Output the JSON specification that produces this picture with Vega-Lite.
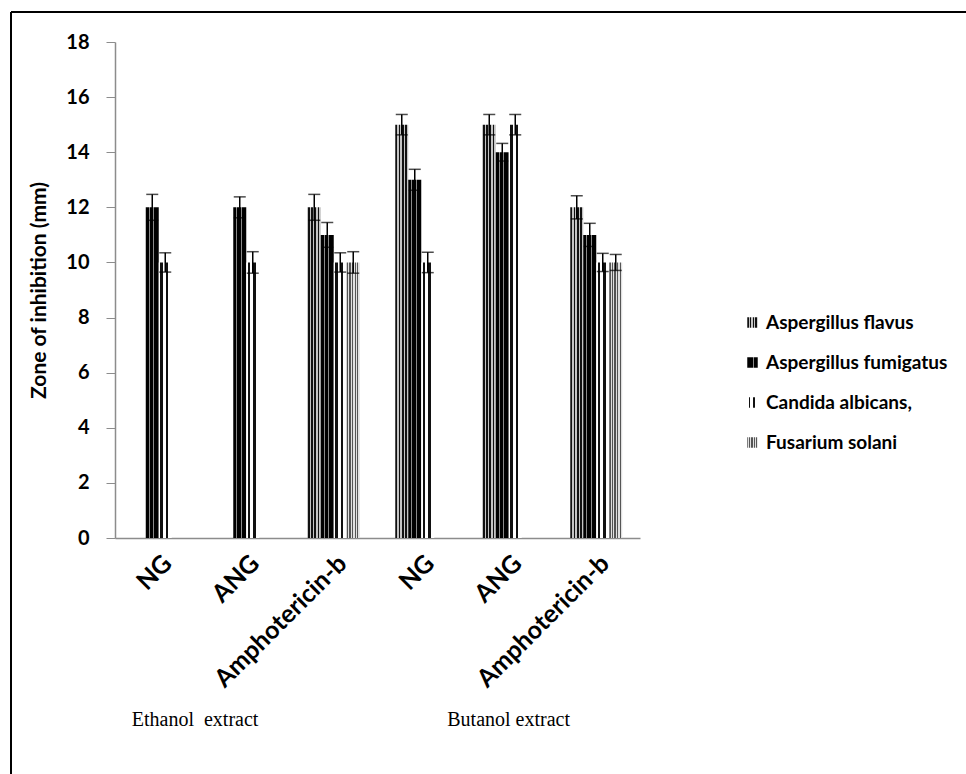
{
  "$schema": "https://vega.github.io/schema/vega-lite/v6.json",
  "width": 955,
  "height": 762,
  "autosize": {"type": "none"},
  "padding": {"left": 11, "top": 12, "right": 0, "bottom": 0},
  "background": "white",
  "config": {
    "view": {"stroke": "black", "strokeWidth": 2, "strokeDash": [955, 1717, 762, 0]},
    "font": "Lato"
  },
  "datasets": {
    "bars": [
      {"cat": "Ethanol|NG", "species": "Aspergillus fumigatus", "value": 12, "lo": 11.53, "hi": 12.47},
      {"cat": "Ethanol|NG", "species": "Candida albicans,", "value": 10, "lo": 9.65, "hi": 10.35},
      {"cat": "Ethanol|ANG", "species": "Aspergillus fumigatus", "value": 12, "lo": 11.62, "hi": 12.38},
      {"cat": "Ethanol|ANG", "species": "Candida albicans,", "value": 10, "lo": 9.61, "hi": 10.39},
      {"cat": "Ethanol|Amphotericin-b", "species": "Aspergillus flavus", "value": 12, "lo": 11.53, "hi": 12.47},
      {"cat": "Ethanol|Amphotericin-b", "species": "Aspergillus fumigatus", "value": 11, "lo": 10.55, "hi": 11.45},
      {"cat": "Ethanol|Amphotericin-b", "species": "Candida albicans,", "value": 10, "lo": 9.65, "hi": 10.35},
      {"cat": "Ethanol|Amphotericin-b", "species": "Fusarium solani", "value": 10, "lo": 9.61, "hi": 10.39},
      {"cat": "Butanol|NG", "species": "Aspergillus flavus", "value": 15, "lo": 14.63, "hi": 15.37},
      {"cat": "Butanol|NG", "species": "Aspergillus fumigatus", "value": 13, "lo": 12.62, "hi": 13.38},
      {"cat": "Butanol|NG", "species": "Candida albicans,", "value": 10, "lo": 9.63, "hi": 10.37},
      {"cat": "Butanol|ANG", "species": "Aspergillus flavus", "value": 15, "lo": 14.63, "hi": 15.37},
      {"cat": "Butanol|ANG", "species": "Aspergillus fumigatus", "value": 14, "lo": 13.68, "hi": 14.32},
      {"cat": "Butanol|ANG", "species": "Candida albicans,", "value": 15, "lo": 14.63, "hi": 15.37},
      {"cat": "Butanol|Amphotericin-b", "species": "Aspergillus flavus", "value": 12, "lo": 11.58, "hi": 12.42},
      {"cat": "Butanol|Amphotericin-b", "species": "Aspergillus fumigatus", "value": 11, "lo": 10.58, "hi": 11.42},
      {"cat": "Butanol|Amphotericin-b", "species": "Candida albicans,", "value": 10, "lo": 9.67, "hi": 10.33},
      {"cat": "Butanol|Amphotericin-b", "species": "Fusarium solani", "value": 10, "lo": 9.71, "hi": 10.29}
    ]
  },
  "layer": [
    {
      "data": {"name": "bars"},
      "mark": {"type": "bar"},
      "encoding": {
        "x": {
          "field": "cat", "type": "nominal", "sort": null,
          "scale": {
            "domain": ["Ethanol|NG", "Ethanol|ANG", "Ethanol|Amphotericin-b", "Butanol|NG", "Butanol|ANG", "Butanol|Amphotericin-b"],
            "range": [104, 629], "paddingInner": 0.406, "paddingOuter": 0.203
          },
          "axis": {
            "title": null, "offset": -236, "labelExpr": "split(datum.label, '|')[1]",
            "labelAngle": -45, "labelAlign": "right", "labelBaseline": "middle",
            "labelFont": "Lato", "labelFontWeight": "bold", "labelFontSize": 25, "labelColor": "black",
            "labelPadding": 21, "labelOffset": 9, "labelLimit": 400, "ticks": false, "domainColor": "#8c8c8c", "domainWidth": 1.5, "grid": false
          }
        },
        "xOffset": {
          "field": "species", "type": "nominal",
          "scale": {"domain": ["Aspergillus flavus", "Aspergillus fumigatus", "Candida albicans,", "Fusarium solani"], "paddingInner": 0, "paddingOuter": 0}
        },
        "y": {
          "field": "value", "type": "quantitative",
          "scale": {"domain": [0, 18], "range": [526, 30], "nice": false},
          "axis": {
            "title": "Zone of inhibition (mm)", "offset": -104, "values": [0, 2, 4, 6, 8, 10, 12, 14, 16, 18],
            "titleFont": "Lato", "titleFontWeight": "bold", "titleFontSize": 21, "titleColor": "black", "titlePadding": 16,
            "labelFont": "Lato", "labelFontWeight": "bold", "labelFontSize": 20, "labelColor": "black", "labelPadding": 17,
            "tickSize": 9, "tickColor": "#8c8c8c", "domainColor": "#8c8c8c", "domainWidth": 1.5, "grid": false
          }
        },
        "fill": {
          "field": "species", "type": "nominal",
          "scale": {
            "domain": ["Aspergillus flavus", "Aspergillus fumigatus", "Candida albicans,", "Fusarium solani"],
            "range": [
              {"expr": "{gradient:'linear',x1:0,y1:0,x2:1,y2:0,stops:[{offset:0,color:'#111'},{offset:0.14,color:'#111'},{offset:0.14,color:'#c4c4c4'},{offset:0.25,color:'#c4c4c4'},{offset:0.25,color:'#111'},{offset:0.39,color:'#111'},{offset:0.39,color:'#c4c4c4'},{offset:0.5,color:'#c4c4c4'},{offset:0.5,color:'#111'},{offset:0.64,color:'#111'},{offset:0.64,color:'#c4c4c4'},{offset:0.75,color:'#c4c4c4'},{offset:0.75,color:'#111'},{offset:0.89,color:'#111'},{offset:0.89,color:'#c4c4c4'},{offset:1,color:'#c4c4c4'}]}"},
              {"expr": "{gradient:'linear',x1:0,y1:0,x2:1,y2:0,stops:[{offset:0,color:'#000'},{offset:0.22,color:'#000'},{offset:0.22,color:'#8a8a8a'},{offset:0.3,color:'#8a8a8a'},{offset:0.3,color:'#000'},{offset:0.58,color:'#000'},{offset:0.58,color:'#8a8a8a'},{offset:0.66,color:'#8a8a8a'},{offset:0.66,color:'#000'},{offset:1,color:'#000'}]}"},
              {"expr": "{gradient:'linear',x1:0,y1:0,x2:1,y2:0,stops:[{offset:0,color:'#fff'},{offset:0.12,color:'#fff'},{offset:0.12,color:'#111'},{offset:0.3,color:'#111'},{offset:0.3,color:'#fff'},{offset:0.55,color:'#fff'},{offset:0.55,color:'#111'},{offset:0.72,color:'#111'},{offset:0.72,color:'#fff'},{offset:1,color:'#fff'}]}"},
              {"expr": "{gradient:'linear',x1:0,y1:0,x2:1,y2:0,stops:[{offset:0,color:'#555'},{offset:0.1,color:'#555'},{offset:0.1,color:'#e0e0e0'},{offset:0.2,color:'#e0e0e0'},{offset:0.2,color:'#555'},{offset:0.3,color:'#555'},{offset:0.3,color:'#e0e0e0'},{offset:0.4,color:'#e0e0e0'},{offset:0.4,color:'#555'},{offset:0.5,color:'#555'},{offset:0.5,color:'#e0e0e0'},{offset:0.6,color:'#e0e0e0'},{offset:0.6,color:'#555'},{offset:0.7,color:'#555'},{offset:0.7,color:'#e0e0e0'},{offset:0.8,color:'#e0e0e0'},{offset:0.8,color:'#555'},{offset:0.9,color:'#555'},{offset:0.9,color:'#e0e0e0'},{offset:1,color:'#e0e0e0'}]}"}
            ]
          },
          "legend": {
            "title": null, "orient": "none", "legendX": 732, "legendY": 301,
            "symbolType": "square", "symbolSize": 110, "symbolStrokeWidth": 0,
            "labelFont": "Lato", "labelFontWeight": "bold", "labelFontSize": 19, "labelColor": "black",
            "labelOffset": 4, "rowPadding": 20, "labelLimit": 300
          }
        }
      }
    },
    {
      "data": {"name": "bars"},
      "mark": {"type": "rule", "color": "black", "strokeWidth": 1.5},
      "encoding": {
        "x": {"field": "cat", "type": "nominal", "sort": null},
        "xOffset": {"field": "species", "type": "nominal"},
        "y": {"field": "lo", "type": "quantitative"},
        "y2": {"field": "hi"}
      }
    },
    {
      "data": {"name": "bars"},
      "mark": {"type": "tick", "orient": "horizontal", "color": "black", "thickness": 1.5, "size": 12},
      "encoding": {
        "x": {"field": "cat", "type": "nominal", "sort": null},
        "xOffset": {"field": "species", "type": "nominal"},
        "y": {"field": "hi", "type": "quantitative"}
      }
    },
    {
      "data": {"name": "bars"},
      "mark": {"type": "tick", "orient": "horizontal", "color": "black", "thickness": 1.5, "size": 12},
      "encoding": {
        "x": {"field": "cat", "type": "nominal", "sort": null},
        "xOffset": {"field": "species", "type": "nominal"},
        "y": {"field": "lo", "type": "quantitative"}
      }
    },
    {
      "data": {"values": [{"cat": "Ethanol|NG", "label": "Ethanol\u00a0\u00a0extract"}]},
      "mark": {"type": "text", "font": "Liberation Serif", "fontSize": 20, "color": "black", "align": "left", "baseline": "middle", "dx": -27},
      "encoding": {
        "x": {"field": "cat", "type": "nominal", "sort": null},
        "y": {"datum": -6.6, "type": "quantitative"},
        "text": {"field": "label"}
      }
    },
    {
      "data": {"values": [{"cat": "Butanol|NG", "label": "Butanol extract"}]},
      "mark": {"type": "text", "font": "Liberation Serif", "fontSize": 20, "color": "black", "align": "left", "baseline": "middle", "dx": 26},
      "encoding": {
        "x": {"field": "cat", "type": "nominal", "sort": null},
        "y": {"datum": -6.6, "type": "quantitative"},
        "text": {"field": "label"}
      }
    }
  ]
}
